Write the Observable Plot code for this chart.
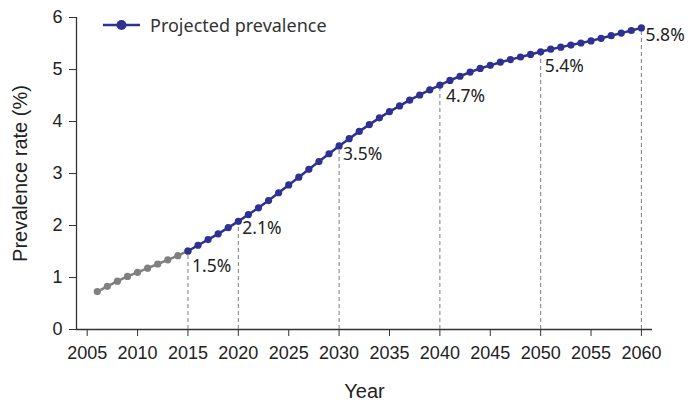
<!DOCTYPE html>
<html>
<head>
<meta charset="utf-8">
<script src="https://cdn.jsdelivr.net/npm/d3@7"></script>
<script src="https://cdn.jsdelivr.net/npm/@observablehq/plot@0.6"></script>
<style>
  html, body { margin: 0; padding: 0; background: #fff; }
  #wrap { position: relative; width: 693px; height: 401px; }
  #legend { position: absolute; left: 102px; top: 12px; display: flex; align-items: center;
    font-family: "Noto Sans", sans-serif; font-size: 18px; color: #333; line-height: 26px; }
  #legend svg { margin-right: 8px; }
</style>
</head>
<body>
<div id="wrap">
  <div id="legend">
    <svg width="40" height="14"><line x1="1" x2="38" y1="7" y2="7" stroke="#2e3192" stroke-width="2.5"/><circle cx="19.5" cy="7" r="5" fill="#2e3192"/></svg>
    <span>Projected prevalence</span>
  </div>
</div>
<script>
const histYears = [2006, 2007, 2008, 2009, 2010, 2011, 2012, 2013, 2014, 2015];
const histValues = [0.73, 0.83, 0.93, 1.02, 1.10, 1.18, 1.26, 1.34, 1.42, 1.51];

const projYears = d3.range(2015, 2061);
const projValues = [
  1.51, 1.62, 1.73, 1.84, 1.96, 2.08, 2.21, 2.34, 2.48, 2.63,
  2.78, 2.93, 3.08, 3.23, 3.38, 3.53, 3.67, 3.81, 3.94, 4.07,
  4.19, 4.30, 4.41, 4.51, 4.61, 4.70, 4.79, 4.87, 4.95, 5.02,
  5.08, 5.14, 5.19, 5.24, 5.29, 5.34, 5.39, 5.43, 5.47, 5.51,
  5.55, 5.60, 5.65, 5.70, 5.75, 5.80
];

const labelYears = [2015, 2020, 2030, 2040, 2050, 2060];
const labelValues = [1.51, 2.08, 3.53, 4.70, 5.34, 5.80];
const labelTexts = ["1.5%", "2.1%", "3.5%", "4.7%", "5.4%", "5.8%"];
const labelDy = [15, 7, 8, 11, 15, 7];

const xTicks = [2005, 2010, 2015, 2020, 2025, 2030, 2035, 2040, 2045, 2050, 2055, 2060];
const yTicks = [0, 1, 2, 3, 4, 5, 6];

const hist = histYears.map((y, i) => ({year: y, value: histValues[i]}));
const proj = projYears.map((y, i) => ({year: y, value: projValues[i]}));
const labels = labelYears.map((y, i) => ({year: y, value: labelValues[i], text: labelTexts[i], dy: labelDy[i]}));

const navy = "#2e3192";
const gray = "#808080";
const xMin = 2003.94, xMax = 2061.1;

const labelFont = "Noto Sans, sans-serif";
const textMarks = [15, 11, 8, 7].map(dy =>
  Plot.text(labels.filter(d => d.dy === dy), {x: "year", y: "value", text: "text", dx: dy === 11 ? 6 : 4, dy,
    textAnchor: "start", fontSize: 17.5, fill: "#222", fontFamily: labelFont}));

const chart = Plot.plot({
  width: 693,
  height: 401,
  marginLeft: 76,
  marginRight: 41,
  marginTop: 17,
  marginBottom: 72,
  style: {fontFamily: "Liberation Sans, Arial, sans-serif", fontSize: "18px", color: "#222", background: "#fff"},
  x: {domain: [xMin, xMax]},
  y: {domain: [0, 6]},
  marks: [
    Plot.axisX({ticks: xTicks, tickFormat: d => String(d), tickSize: 7, tickPadding: 10, fontSize: 18,
      label: null, stroke: "#333"}),
    Plot.axisX({ticks: [], fontSize: 20, label: "Year", labelAnchor: "center", labelArrow: "none", labelOffset: 68}),
    Plot.axisY({ticks: yTicks, tickFormat: d => String(d), tickSize: 7, tickPadding: 7, fontSize: 18,
      label: null, stroke: "#333"}),
    Plot.axisY({ticks: [], fontSize: 20, label: "Prevalence rate (%)", labelAnchor: "center", labelArrow: "none", labelOffset: 64}),
    Plot.ruleY([0], {stroke: "#333", strokeWidth: 1.3}),
    Plot.ruleX([xMin], {y1: 0, y2: 6, stroke: "#333", strokeWidth: 1.3}),
    Plot.ruleX(labels, {x: "year", y1: 0, y2: "value", stroke: "#888", strokeWidth: 1.1, strokeDasharray: "4,3"}),
    Plot.line(hist, {x: "year", y: "value", stroke: gray, strokeWidth: 2.5}),
    Plot.dot(hist, {x: "year", y: "value", r: 3.6, fill: gray}),
    Plot.line(proj, {x: "year", y: "value", stroke: navy, strokeWidth: 2.5}),
    Plot.dot(proj, {x: "year", y: "value", r: 3.6, fill: navy}),
    ...textMarks
  ]
});
document.getElementById("wrap").appendChild(chart);
</script>
</body>
</html>
